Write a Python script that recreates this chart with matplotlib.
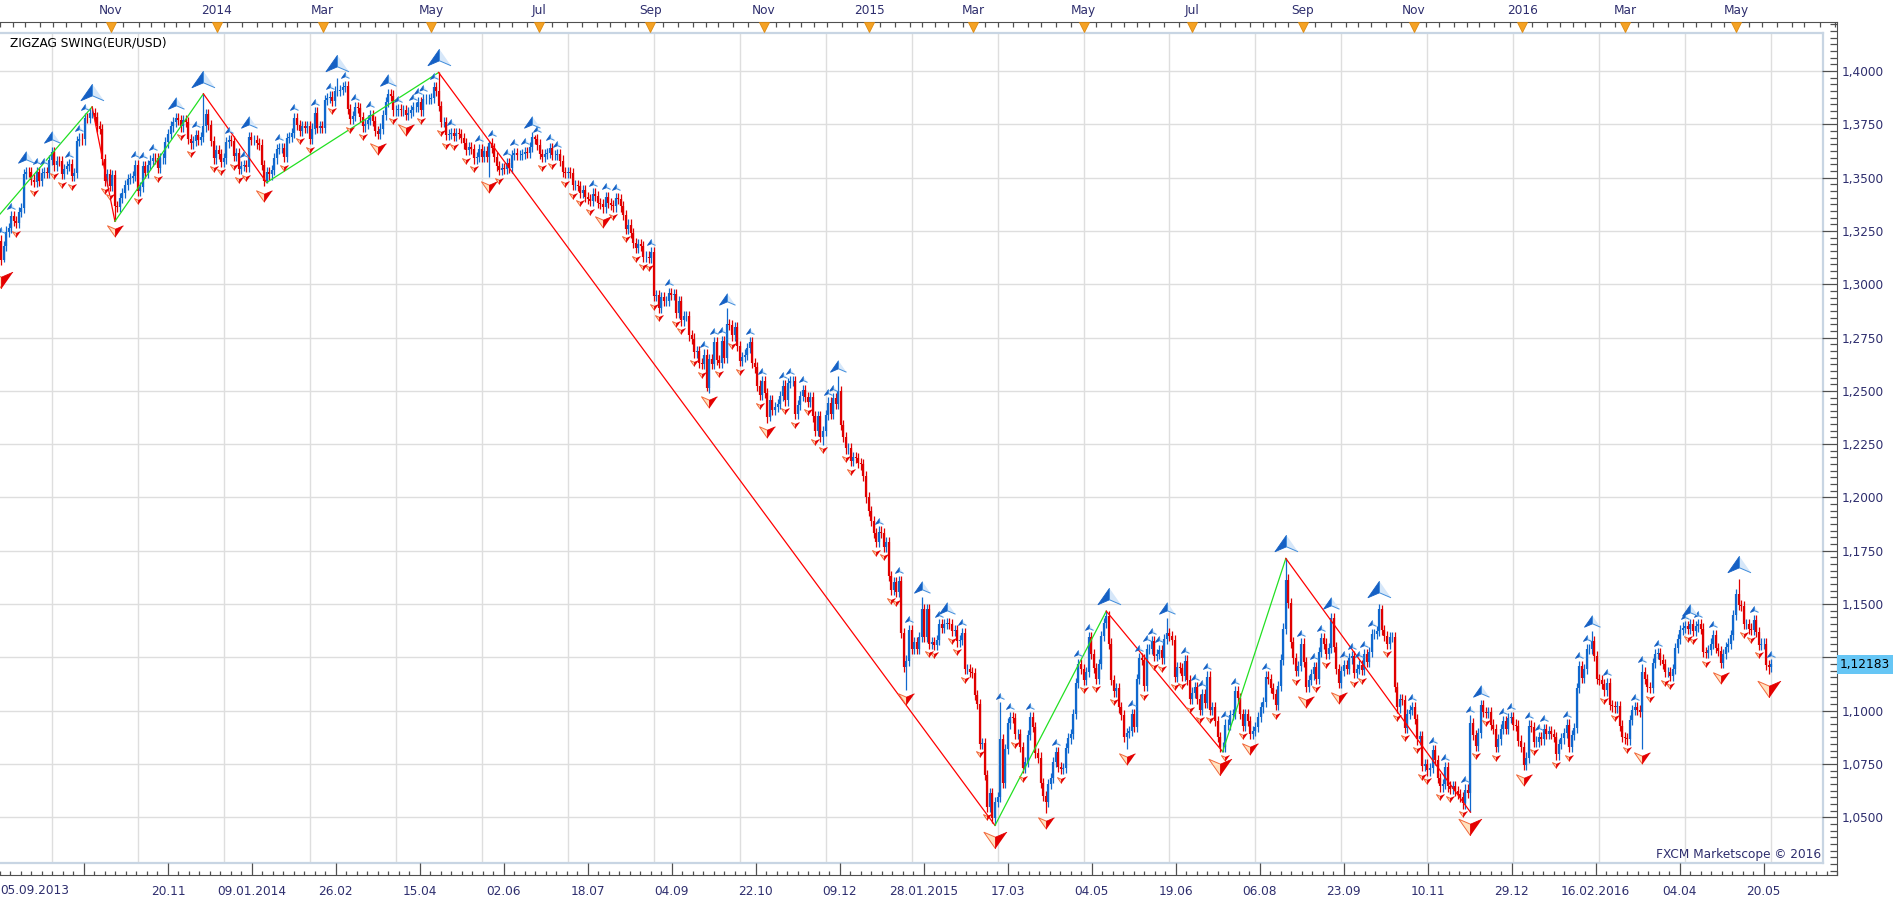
#zigzag swing chart, EUR/USD daily, FXCM Marketscope look
import numpy as np
import pandas as pd
import matplotlib
matplotlib.use('Agg')
import matplotlib.pyplot as plt
from matplotlib.transforms import offset_copy, blended_transform_factory

plt.rcParams['font.family'] = ['DejaVu Sans']

# daily closes, one row per month
close_2013 = [
    1.3115, 1.3178, 1.3247, 1.3262, 1.3318, 1.3297, 1.3286, 1.3340, 1.3357, 1.3518, 1.3526, 1.3525, 1.3491, 1.3479, 1.3526, 1.3484, 1.3523, 1.3526,
    1.3523, 1.3582, 1.3620, 1.3557, 1.3578, 1.3577, 1.3517, 1.3542, 1.3553, 1.3563, 1.3506, 1.3523, 1.3673, 1.3683, 1.3679, 1.3780, 1.3778, 1.3803, 1.3803, 1.3784, 1.3740, 1.3728, 1.3585,
    1.3486, 1.3515, 1.3461, 1.3513, 1.3367, 1.3364, 1.3405, 1.3427, 1.3465, 1.3492, 1.3497, 1.3509, 1.3559, 1.3438, 1.3456, 1.3555, 1.3522, 1.3560, 1.3580, 1.3593, 1.3590,
    1.3544, 1.3590, 1.3590, 1.3665, 1.3705, 1.3740, 1.3760, 1.3780, 1.3770, 1.3740, 1.3770, 1.3760, 1.3680, 1.3660, 1.3672, 1.3700, 1.3677, 1.3690, 1.3740, 1.3800, 1.3745,
]
close_2014 = [
    1.3670, 1.3590, 1.3630, 1.3610, 1.3575, 1.3590, 1.3665, 1.3675, 1.3670, 1.3600, 1.3615, 1.3540, 1.3555, 1.3560, 1.3550, 1.3690, 1.3675, 1.3675, 1.3660, 1.3655, 1.3560, 1.3485,
    1.3525, 1.3515, 1.3535, 1.3590, 1.3635, 1.3640, 1.3640, 1.3595, 1.3685, 1.3690, 1.3710, 1.3780, 1.3745, 1.3720, 1.3740, 1.3735, 1.3740, 1.3680, 1.3730, 1.3805,
    1.3735, 1.3740, 1.3735, 1.3865, 1.3875, 1.3880, 1.3860, 1.3905, 1.3905, 1.3910, 1.3925, 1.3930, 1.3820, 1.3775, 1.3790, 1.3830, 1.3825, 1.3785, 1.3740, 1.3750, 1.3770,
    1.3795, 1.3765, 1.3720, 1.3705, 1.3730, 1.3795, 1.3855, 1.3890, 1.3885, 1.3815, 1.3815, 1.3820, 1.3815, 1.3815, 1.3795, 1.3805, 1.3815, 1.3830, 1.3830, 1.3855, 1.3815, 1.3870,
    1.3870, 1.3870, 1.3875, 1.3925, 1.3905, 1.3835, 1.3760, 1.3760, 1.3700, 1.3705, 1.3710, 1.3695, 1.3710, 1.3705, 1.3685, 1.3660, 1.3630, 1.3645, 1.3635, 1.3590, 1.3595, 1.3635,
    1.3595, 1.3625, 1.3595, 1.3660, 1.3640, 1.3595, 1.3555, 1.3535, 1.3545, 1.3540, 1.3570, 1.3545, 1.3605, 1.3615, 1.3605, 1.3605, 1.3610, 1.3620, 1.3615, 1.3645, 1.3690,
    1.3680, 1.3655, 1.3610, 1.3595, 1.3610, 1.3615, 1.3640, 1.3605, 1.3605, 1.3610, 1.3580, 1.3525, 1.3520, 1.3525, 1.3520, 1.3465, 1.3465, 1.3460, 1.3430, 1.3440, 1.3410, 1.3400, 1.3390,
    1.3425, 1.3415, 1.3380, 1.3375, 1.3360, 1.3410, 1.3380, 1.3370, 1.3365, 1.3405, 1.3400, 1.3365, 1.3325, 1.3260, 1.3280, 1.3240, 1.3195, 1.3170, 1.3190, 1.3180, 1.3130,
    1.3130, 1.3125, 1.3150, 1.2945, 1.2950, 1.2890, 1.2940, 1.2920, 1.2920, 1.2960, 1.2950, 1.2955, 1.2865, 1.2920, 1.2830, 1.2850, 1.2850, 1.2760, 1.2745, 1.2680, 1.2685, 1.2630,
    1.2625, 1.2670, 1.2515, 1.2650, 1.2625, 1.2730, 1.2645, 1.2630, 1.2735, 1.2655, 1.2815, 1.2810, 1.2760, 1.2800, 1.2710, 1.2640, 1.2660, 1.2670, 1.2700, 1.2730, 1.2630, 1.2610, 1.2525,
    1.2480, 1.2545, 1.2490, 1.2375, 1.2455, 1.2410, 1.2425, 1.2440, 1.2475, 1.2525, 1.2455, 1.2535, 1.2545, 1.2545, 1.2390, 1.2435, 1.2475, 1.2505, 1.2470, 1.2450,
    1.2470, 1.2380, 1.2310, 1.2380, 1.2285, 1.2310, 1.2385, 1.2445, 1.2390, 1.2465, 1.2440, 1.2500, 1.2340, 1.2285, 1.2230, 1.2230, 1.2170, 1.2190, 1.2185, 1.2160, 1.2155, 1.2100,
]
close_2015 = [
    1.2000, 1.1935, 1.1890, 1.1835, 1.1790, 1.1840, 1.1835, 1.1770, 1.1790, 1.1630, 1.1565, 1.1605, 1.1555, 1.1610, 1.1365, 1.1205, 1.1235, 1.1380, 1.1290, 1.1320, 1.1290,
    1.1345, 1.1475, 1.1345, 1.1475, 1.1315, 1.1320, 1.1310, 1.1330, 1.1405, 1.1390, 1.1405, 1.1410, 1.1405, 1.1375, 1.1380, 1.1325, 1.1330, 1.1365, 1.1195, 1.1195,
    1.1180, 1.1175, 1.1075, 1.1030, 1.0845, 1.0850, 1.0700, 1.0550, 1.0615, 1.0495, 1.0570, 1.0595, 1.0865, 1.0660, 1.0820, 1.0940, 1.0970, 1.0965, 1.0890, 1.0890, 1.0830, 1.0730,
    1.0760, 1.0885, 1.0970, 1.0925, 1.0800, 1.0780, 1.0660, 1.0600, 1.0570, 1.0655, 1.0685, 1.0760, 1.0805, 1.0735, 1.0725, 1.0730, 1.0825, 1.0870, 1.0890, 1.0985, 1.1130, 1.1220,
    1.1195, 1.1145, 1.1180, 1.1345, 1.1265, 1.1200, 1.1150, 1.1220, 1.1350, 1.1410, 1.1445, 1.1315, 1.1145, 1.1090, 1.1105, 1.1015, 1.0980, 1.0875, 1.0895, 1.0905, 1.0985,
    1.0925, 1.1150, 1.1245, 1.1240, 1.1115, 1.1290, 1.1290, 1.1325, 1.1255, 1.1265, 1.1285, 1.1245, 1.1335, 1.1365, 1.1350, 1.1330, 1.1160, 1.1205, 1.1200, 1.1165, 1.1235, 1.1145,
    1.1055, 1.1085, 1.1110, 1.1055, 1.1005, 1.1080, 1.1035, 1.1160, 1.1005, 1.1015, 1.0950, 1.0875, 1.0830, 1.0830, 1.0935, 1.0935, 1.0980, 1.0985, 1.1090, 1.1060, 1.0985, 1.0930, 1.0985,
    1.0950, 1.0890, 1.0905, 1.0925, 1.0970, 1.1015, 1.1040, 1.1160, 1.1150, 1.1105, 1.1080, 1.1025, 1.1115, 1.1240, 1.1385, 1.1615, 1.1505, 1.1320, 1.1245, 1.1185, 1.1210,
    1.1315, 1.1230, 1.1110, 1.1145, 1.1170, 1.1205, 1.1150, 1.1275, 1.1340, 1.1315, 1.1265, 1.1295, 1.1435, 1.1300, 1.1195, 1.1130, 1.1185, 1.1215, 1.1195, 1.1245, 1.1255, 1.1175,
    1.1195, 1.1215, 1.1190, 1.1265, 1.1230, 1.1275, 1.1360, 1.1360, 1.1375, 1.1475, 1.1380, 1.1350, 1.1315, 1.1345, 1.1345, 1.1110, 1.1015, 1.1055, 1.1050, 1.0920, 1.0985, 1.1005,
    1.1015, 1.0960, 1.0865, 1.0880, 1.0740, 1.0750, 1.0720, 1.0730, 1.0815, 1.0770, 1.0685, 1.0645, 1.0655, 1.0735, 1.0645, 1.0635, 1.0645, 1.0625, 1.0610, 1.0595, 1.0565,
    1.0630, 1.0615, 1.0940, 1.0885, 1.0835, 1.0895, 1.1025, 1.0995, 1.0990, 1.0995, 1.0935, 1.0915, 1.0830, 1.0865, 1.0915, 1.0950, 1.0915, 1.0965, 1.0970, 1.0935, 1.0930, 1.0860,
]
close_2016 = [
    1.0830, 1.0745, 1.0780, 1.0930, 1.0925, 1.0855, 1.0855, 1.0875, 1.0865, 1.0915, 1.0890, 1.0905, 1.0890, 1.0875, 1.0795, 1.0845, 1.0870, 1.0895, 1.0935, 1.0830,
    1.0885, 1.0920, 1.1105, 1.1210, 1.1155, 1.1195, 1.1290, 1.1290, 1.1325, 1.1255, 1.1150, 1.1145, 1.1125, 1.1095, 1.1130, 1.1025, 1.1020, 1.1015, 1.1020, 1.0930, 1.0875,
    1.0870, 1.0865, 1.0955, 1.1005, 1.1015, 1.1005, 1.0995, 1.1180, 1.1150, 1.1110, 1.1105, 1.1225, 1.1265, 1.1270, 1.1240, 1.1220, 1.1180, 1.1180, 1.1165, 1.1195, 1.1295, 1.1335, 1.1380,
    1.1390, 1.1395, 1.1385, 1.1405, 1.1375, 1.1395, 1.1405, 1.1385, 1.1275, 1.1270, 1.1285, 1.1315, 1.1355, 1.1295, 1.1280, 1.1225, 1.1265, 1.1300, 1.1315, 1.1355, 1.1450,
    1.1545, 1.1495, 1.1490, 1.1405, 1.1405, 1.1385, 1.1380, 1.1425, 1.1370, 1.1310, 1.1315, 1.1315, 1.1215, 1.1205, 1.12183,
]
first_open = 1.3205

# intraday extremes that stick out of the bodies
hi_dates = ['2013-10-25', '2013-12-27', '2014-03-13', '2014-05-08', '2014-06-05', '2014-07-01',
            '2014-10-15', '2014-12-16', '2015-02-03', '2015-03-18', '2015-05-15', '2015-06-18',
            '2015-08-24', '2015-10-15', '2015-12-03', '2016-02-11', '2016-03-10', '2016-05-03']
hi_vals = [1.3832, 1.3893, 1.3967, 1.3993, 1.3670, 1.3700,
           1.2887, 1.2570, 1.1534, 1.1043, 1.1467, 1.1436,
           1.1714, 1.1495, 1.0981, 1.1376, 1.1218, 1.1616]
lo_dates = ['2013-09-06', '2013-11-07', '2014-02-03', '2014-06-05', '2014-10-03', '2014-11-07',
            '2014-12-08', '2015-01-26', '2015-03-16', '2015-04-13', '2015-05-27', '2015-07-20',
            '2015-12-03', '2016-03-10', '2016-05-19']
lo_vals = [1.3105, 1.3295, 1.3477, 1.3503, 1.2500, 1.2357,
           1.2247, 1.1098, 1.0462, 1.0520, 1.0818, 1.0808,
           1.0524, 1.0822, 1.1174]

# zigzag swing points
zz_dates = ['2013-07-09', '2013-10-25', '2013-11-07', '2013-12-27', '2014-02-03', '2014-05-08',
            '2015-03-16', '2015-05-15', '2015-07-20', '2015-08-24', '2015-12-03']
zz_prices = [1.2755, 1.3832, 1.3295, 1.3893, 1.3477, 1.3993,
             1.0462, 1.1467, 1.0808, 1.1714, 1.0524]

grid_dates = ['2013-10-03', '2013-11-20', '2014-01-09', '2014-02-26', '2014-04-15', '2014-06-02',
              '2014-07-18', '2014-09-04', '2014-10-22', '2014-12-09', '2015-01-28', '2015-03-17',
              '2015-05-04', '2015-06-19', '2015-08-06', '2015-09-23', '2015-11-10', '2015-12-29',
              '2016-02-16', '2016-04-04', '2016-05-20']
month_keys = ['2013-11', '2014-01', '2014-03', '2014-05', '2014-07', '2014-09', '2014-11', '2015-01',
              '2015-03', '2015-05', '2015-07', '2015-09', '2015-11', '2016-01', '2016-03', '2016-05']
month_labels = ['Nov', '2014', 'Mar', 'May', 'Jul', 'Sep', 'Nov', '2015',
                'Mar', 'May', 'Jul', 'Sep', 'Nov', '2016', 'Mar', 'May']

# trading days (no bars on 25.12 / 01.01)
days = pd.bdate_range('2013-07-01', '2016-06-30')
days = days[~(((days.month == 12) & (days.day == 25)) | ((days.month == 1) & (days.day == 1)))]
start = days.get_loc(pd.Timestamp('2013-09-05'))
pos = pd.Series(np.arange(len(days)) - start, index=days)

def where(d):
    return pos[pos.index >= pd.Timestamp(d)].iloc[0]

close = np.array(close_2013 + close_2014 + close_2015 + close_2016)
n = len(close)
x = np.arange(n)
opn = np.r_[first_open, close[:-1]]
WICK = 0.0024
hi = np.maximum(opn, close) + WICK
lo = np.minimum(opn, close) - WICK
for d, v in zip(hi_dates, hi_vals):
    hi[where(d)] = max(v, max(opn[where(d)], close[where(d)]))
for d, v in zip(lo_dates, lo_vals):
    lo[where(d)] = min(v, min(opn[where(d)], close[where(d)]))
up = close >= opn

# swing marks: small = 3 bar turn, medium/large = 5 bar fractals ranked among themselves
def fractal(s, k):
    out = []
    for i in range(len(s)):
        if (s[max(0, i - k):i] < s[i]).all() and (s[i + 1:i + 1 + k] <= s[i]).all():
            out.append(i)
    return out

def level_up(idx, s):
    out = []
    for k, i in enumerate(idx):
        p = s[idx[k - 1]] if k > 0 else -np.inf
        q = s[idx[k + 1]] if k < len(idx) - 1 else -np.inf
        if s[i] > p and s[i] >= q:
            out.append(i)
    return out

def levels(s):
    small = fractal(s, 1)
    f5 = fractal(s, 2)
    mid = level_up(f5, s)
    big = level_up(mid, s)
    return sorted(set(small) - set(mid)), sorted(set(mid) - set(big)), big

hs, hm, hl = levels(hi)
ls_, lm, ll = levels(-lo)

# ---- layout (pixel boxes of the 1903x905 picture)
W, H = 1903, 905
fig = plt.figure(figsize=(W / 100, H / 100), dpi=100)
fig.patch.set_facecolor('white')
dx, x0px = 2.529, 1.1
py, y140 = 2132.3, 71.0

def rect(l, t, r, b):
    return [l / W, 1 - b / H, (r - l) / W, (b - t) / H]
def xl(a, b):
    return ((a - x0px) / dx, (b - x0px) / dx)
def yl(t, b):
    return (1.4 - (b - y140) / py, 1.4 + (y140 - t) / py)

TXT = '#2E2E6E'
TICK = '#505050'
FS = 8.7

ax = fig.add_axes(rect(0, 33, 1822.7, 863))
ax.set_xlim(*xl(0, 1822.7))
ax.set_ylim(*yl(33, 863))
grid_idx = [where(d) for d in grid_dates]
ax.set_xticks(grid_idx)
ax.set_yticks(np.arange(1.05, 1.4001, 0.025))
ax.grid(True, color='#DEDEDE', lw=1.0)
ax.set_axisbelow(True)
ax.tick_params(length=0, labelbottom=False, labelleft=False)
ax.spines['left'].set_visible(False)
for s in ['top', 'right', 'bottom']:
    ax.spines[s].set_color('#C8D5E3')
    ax.spines[s].set_linewidth(1.6)

BLUE, RED = '#1068CE', '#E00000'
cols = np.where(up, BLUE, RED)
ax.vlines(x, lo, hi, colors=cols, lw=0.9, zorder=2)
ax.vlines(x, opn, close, colors=cols, lw=1.6, zorder=2)

zx = [where(d) for d in zz_dates]
for k in range(len(zx) - 1):
    c = '#22E022' if zz_prices[k + 1] > zz_prices[k] else '#FF0000'
    ax.plot(zx[k:k + 2], zz_prices[k:k + 2], color=c, lw=0.9, zorder=3)

up_l = [(0, 0.5), (-0.7, -0.5), (0, -0.2)]
up_r = [(0, 0.5), (0, -0.2), (0.7, -0.5)]
dn_l = [(0, -0.5), (-0.7, 0.5), (0, 0.2)]
dn_r = [(0, -0.5), (0, 0.2), (0.7, 0.5)]

def arrows(idx, is_up, ms, off):
    idx = np.array(idx, dtype=int)
    if len(idx) == 0:
        return
    if is_up:
        yv = hi[idx]
        tr = offset_copy(ax.transData, fig=fig, y=off, units='dots')
        ax.plot(idx, yv, ls='none', marker=up_l, ms=ms, mfc='#1560C4', mec='#1560C4', mew=0.6, transform=tr, zorder=4)
        ax.plot(idx, yv, ls='none', marker=up_r, ms=ms, mfc='#D6E7F9', mec='#3F8CDB', mew=0.7, transform=tr, zorder=4)
    else:
        yv = lo[idx]
        tr = offset_copy(ax.transData, fig=fig, y=-off, units='dots')
        ax.plot(idx, yv, ls='none', marker=dn_l, ms=ms, mfc='#FFE2C0', mec='#F2683A', mew=0.7, transform=tr, zorder=4)
        ax.plot(idx, yv, ls='none', marker=dn_r, ms=ms, mfc='#E40000', mec='#E40000', mew=0.6, transform=tr, zorder=4)

for idx, is_up in [(hs, True), (ls_, False)]:
    arrows(idx, is_up, 5.8, 5.5)
for idx, is_up in [(hm, True), (lm, False)]:
    arrows(idx, is_up, 11.5, 9.7)
for idx, is_up in [(hl, True), (ll, False)]:
    arrows(idx, is_up, 16.6, 15.0)

ax.text(10 / 1822.7, 1 - 10 / 830, 'ZIGZAG SWING(EUR/USD)', transform=ax.transAxes,
        ha='left', va='center', fontsize=FS, color='black')
ax.text(1 - 2 / 1822.7, 8.7 / 830, 'FXCM Marketscope \u00a9 2016', transform=ax.transAxes,
        ha='right', va='center', fontsize=FS, color=TXT)

# right price scale
axr = fig.add_axes(rect(1822.7, 22, 1837, 875))
axr.set_ylim(*yl(22, 875))
axr.patch.set_visible(False)
for s in ['left', 'top', 'bottom']:
    axr.spines[s].set_visible(False)
axr.spines['right'].set_color(TICK)
axr.set_xticks([])
axr.yaxis.tick_right()
last = close[-1]
axr.set_yticks(np.arange(1.05, 1.4001, 0.025))
axr.set_yticks(np.arange(1.025, 1.4226, 0.025 / 8), minor=True)
axr.set_yticklabels(['' if abs(v - last) < 0.006 else f'{v:.4f}'.replace('.', ',')
                     for v in np.arange(1.05, 1.4001, 0.025)])
axr.tick_params(axis='y', which='major', direction='in', length=10.8, width=0.9, color=TICK,
                pad=3.4, labelsize=FS, labelcolor=TXT)
axr.tick_params(axis='y', which='minor', direction='in', length=5.0, width=0.9, color=TICK)
axr.text(1.21, last, f'{last:.5f}'.replace('.', ','),
         transform=blended_transform_factory(axr.transAxes, axr.transData),
         ha='left', va='center', fontsize=FS, color='black', clip_on=False,
         bbox=dict(boxstyle='square,pad=0.25', fc='#66C6F5', ec='none'))

# bottom date scale
axb = fig.add_axes(rect(0, 863, 1837, 875))
axb.set_xlim(*xl(0, 1837))
axb.patch.set_visible(False)
for s in ['left', 'top', 'right']:
    axb.spines[s].set_visible(False)
axb.spines['bottom'].set_color(TICK)
axb.set_yticks([])
labels = []
prev_year = 2013
for d in grid_dates[1:]:
    t = pd.Timestamp(d)
    labels.append(t.strftime('%d.%m') + (t.strftime('.%Y') if t.year != prev_year else ''))
    prev_year = t.year
axb.set_xticks(grid_idx)
axb.set_xticklabels([''] + labels)
axb.set_xticks(np.arange(grid_idx[0] - 34, grid_idx[-1] + 34, 34 / 8), minor=True)
axb.tick_params(axis='x', which='major', direction='in', length=8.6, width=0.9, color=TICK,
                pad=7, labelsize=FS, labelcolor=TXT)
axb.tick_params(axis='x', which='minor', direction='in', length=2.9, width=0.9, color=TICK)
axb.text(0, -0.75, '05.09.2013', transform=blended_transform_factory(axb.transAxes, axb.transAxes),
         ha='left', va='top', fontsize=FS, color=TXT)

# top month scale
axt = fig.add_axes(rect(0, 22, 1837, 33))
axt.set_xlim(*xl(0, 1837))
axt.patch.set_visible(False)
for s in ['left', 'bottom', 'right']:
    axt.spines[s].set_visible(False)
axt.spines['top'].set_color(TICK)
axt.set_yticks([])
axt.set_ylim(0, 1)
mpos = [where(m + '-01') for m in month_keys]
axt.xaxis.tick_top()
axt.set_xticks(mpos)
axt.set_xticklabels(month_labels)
qpos = []
for m in pd.period_range('2013-09', '2016-06', freq='M'):
    for dday in (1, 8, 16, 24):
        qpos.append(where(f'{m}-{dday:02d}'))
axt.set_xticks(qpos, minor=True)
axt.tick_params(axis='x', which='both', direction='in', length=3.6, width=0.9, color=TICK,
                pad=3.5, labelsize=FS, labelcolor=TXT)
axt.plot(mpos, [0.5] * len(mpos), ls='none', marker='v', ms=6.5, mfc='#F5A224', mec='#DD8A10',
         mew=0.6, clip_on=False, zorder=5)

fig.savefig('out.png', dpi=100)
